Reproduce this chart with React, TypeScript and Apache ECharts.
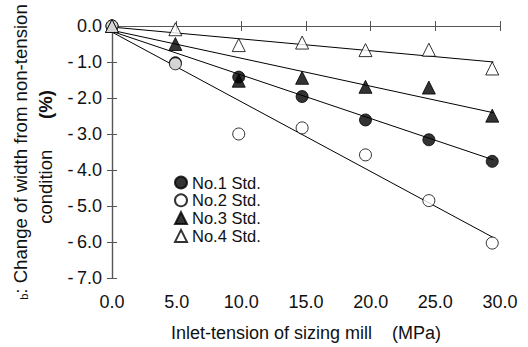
import React, { useEffect, useRef } from "react";
import * as echarts from "echarts";

const xTension = [0, 4.9, 9.8, 14.7, 19.6, 24.5, 29.4];
const no1 = [0, -1.02, -1.42, -1.96, -2.61, -3.16, -3.76];
const no2 = [0, -1.05, -3.0, -2.83, -3.58, -4.85, -6.03];
const no3 = [0, -0.5, -1.52, -1.44, -1.69, -1.71, -2.49];
const no4 = [0, -0.09, -0.53, -0.46, -0.67, -0.66, -1.18];

const fitX = [0, 29.5];
const fit1 = [-0.15, -3.72];
const fit2 = [-0.17, -5.88];
const fit3 = [-0.12, -2.41];
const fit4 = [-0.03, -1.0];

const seriesNames = ["No.1 Std.", "No.2 Std.", "No.3 Std.", "No.4 Std."];

const FONT = "'Liberation Sans', Arial, sans-serif";

export default function App() {
  const ref = useRef<HTMLDivElement>(null);
  useEffect(() => {
    if (!ref.current) return;
    const chart = echarts.init(ref.current, undefined, { renderer: "svg" });
    const pts = (ys: number[]) => xTension.map((x, i) => [x, ys[i]]);
    const fit = (ys: number[]) => fitX.map((x, i) => [x, ys[i]]);
    const lineSeries = (ys: number[]) => ({
      type: "line",
      data: fit(ys),
      symbol: "none",
      silent: true,
      lineStyle: { color: "#000", width: 1 },
      z: 1,
    });
    const markSpecs = [
      { ys: no1, symbol: "circle", fill: "#000" },
      { ys: no2, symbol: "circle", fill: "#fff" },
      { ys: no3, symbol: "triangle", fill: "#000" },
      { ys: no4, symbol: "triangle", fill: "#fff" },
    ];
    const scatterSeries = markSpecs.map((m, i) => ({
      type: "scatter",
      name: seriesNames[i],
      data: pts(m.ys),
      symbol: m.symbol,
      symbolSize: m.symbol === "circle" ? 12 : 13,
      itemStyle: { color: m.fill, borderColor: "#000", borderWidth: 1 },
      z: 3,
    }));
    const axisCommon = {
      axisLine: { show: true, lineStyle: { color: "#555", width: 1.2 } },
      axisTick: { show: true, inside: true, length: 5, lineStyle: { color: "#555" } },
      splitLine: { show: false },
    };
    chart.setOption({
      animation: false,
      grid: { left: 112, right: 28, top: 26, bottom: 60 },
      legend: {
        orient: "vertical",
        left: 169,
        top: 169,
        itemWidth: 12,
        itemHeight: 12,
        itemGap: 0.8,
        data: seriesNames,
        textStyle: { fontFamily: FONT, fontSize: 16.5, lineHeight: 16, color: "#111" },
      },
      xAxis: [
        {
          type: "value",
          min: 0,
          max: 30,
          interval: 5,
          position: "bottom",
          ...axisCommon,
          axisLabel: {
            formatter: (v: number) => v.toFixed(1),
            fontFamily: FONT,
            fontSize: 18,
            color: "#111",
            margin: 15,
          },
          name: "Inlet-tension of sizing mill    (MPa)",
          nameLocation: "middle",
          nameGap: 46,
          nameTextStyle: { fontFamily: FONT, fontSize: 18, color: "#111" },
        },
        {
          type: "value",
          min: 0,
          max: 30,
          interval: 5,
          position: "top",
          ...axisCommon,
          axisLabel: { show: false },
        },
      ],
      yAxis: [
        {
          type: "value",
          min: -7,
          max: 0,
          interval: 1,
          position: "left",
          ...axisCommon,
          axisLabel: {
            formatter: (v: number) => (v === 0 ? "0.0" : "-\u2009" + Math.abs(v).toFixed(1)),
            fontFamily: FONT,
            fontSize: 18,
            color: "#111",
            margin: 10,
          },
        },
        {
          type: "value",
          min: -7,
          max: 0,
          interval: 1,
          position: "right",
          ...axisCommon,
          axisLabel: { show: false },
        },
      ],
      graphic: [
        {
          type: "text",
          x: 20,
          y: 152,
          rotation: Math.PI / 2,
          style: {
            text: "{s|b}: Change of width from non-tension",
            fontFamily: FONT,
            fontSize: 18.6,
            fill: "#111",
            align: "center",
            verticalAlign: "middle",
            rich: { s: { fontSize: 11, fontFamily: FONT, fill: "#111", verticalAlign: "bottom" } },
          },
        },
        {
          type: "text",
          x: 45,
          y: 157,
          rotation: Math.PI / 2,
          style: {
            text: "condition      {b|(%)}",
            fontFamily: FONT,
            fontSize: 18.5,
            fill: "#111",
            align: "center",
            verticalAlign: "middle",
            rich: { b: { fontSize: 18.5, fontWeight: "bold", fontFamily: FONT, fill: "#111" } },
          },
        },
      ],
      series: [lineSeries(fit1), lineSeries(fit2), lineSeries(fit3), lineSeries(fit4), ...scatterSeries],
    });
    return () => chart.dispose();
  }, []);
  return <div ref={ref} style={{ width: 528, height: 347, position: "absolute", left: 0, top: 0 }} />;
}
